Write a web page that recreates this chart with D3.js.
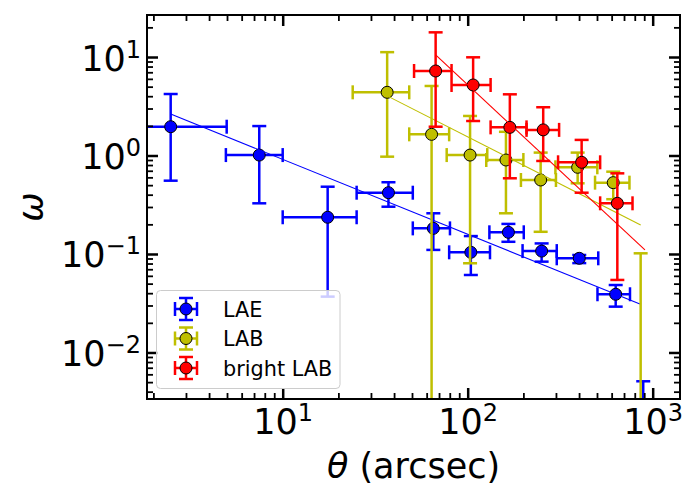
<!DOCTYPE html>
<html>
<head>
<meta charset="utf-8">
<script src="https://cdn.jsdelivr.net/npm/d3@7"></script>
<style>
body { margin: 0; background: #fff; }
svg { font-family: "DejaVu Sans", sans-serif; }
</style>
</head>
<body>
<svg></svg>
<script>
// values (theta in arcsec, omega dimensionless)
const names = ['LAE', 'LAB', 'bright LAB'];
const colors = ['#0000ff', '#bfbf00', '#ff0000'];

const laeTheta   = [2.48, 7.47, 17.5, 37.3, 65.2, 104, 166, 251, 401, 631, 889];
const laeThetaLo = [1.0, 4.93, 10, 25.1, 50.5, 79.4, 131, 198, 303, 503, 760];
const laeThetaHi = [4.98, 10, 25.1, 50.5, 80.2, 132, 201, 303, 508, 754, 1000];
const laeOmega   = [1.96, 1.01, 0.236, 0.419, 0.182, 0.104, 0.166, 0.107, 0.0904, 0.039, 0.001];
const laeOmegaLo = [0.555, 0.327, 0.0369, 0.302, 0.11, 0.0612, 0.133, 0.0836, 0.0808, 0.0292, 0.0003];
const laeOmegaHi = [4.21, 1.99, 0.482, 0.535, 0.259, 0.152, 0.202, 0.128, 0.0977, 0.0484, 0.0051];

const labTheta   = [36.7, 63.8, 103, 161, 248, 393, 612, 861];
const labThetaLo = [23.9, 48.3, 77.0, 126, 194, 298, 488, 750];
const labThetaHi = [48.3, 79.4, 127.6, 200, 300, 502, 749, 1000];
const labOmega   = [4.38, 1.64, 1.01, 0.90, 0.564, 0.759, 0.53, 0.001];
const labOmegaLo = [0.973, 0.0001, 0.0805, 0.259, 0.168, 0.522, 0.36, 0.0001];
const labOmegaHi = [11.2, 5.08, 2.52, 1.74, 1.07, 1.07, 0.685, 0.1016];

const brightTheta   = [67.1, 107, 169, 256, 413, 644];
const brightThetaLo = [51.3, 81.8, 133, 208, 308, 520];
const brightThetaHi = [81.8, 133, 208, 312, 520, 778];
const brightOmega   = [7.21, 5.2, 1.93, 1.82, 0.853, 0.327];
const brightOmegaLo = [1.96, 2.24, 0.587, 0.88, 0.419, 0.0545];
const brightOmegaHi = [17.8, 9.93, 4.18, 3.09, 1.44, 0.659];

// power-law fits, end points
const laeFitTheta = [2.48, 853];
const laeFitOmega = [2.64, 0.031];
const labFitTheta = [36.7, 861];
const labFitOmega = [4.03, 0.197];
const brightFitTheta = [67.1, 908];
const brightFitOmega = [10.5, 0.11];

const xMajor = [10, 100, 1000];
const yMajor = [0.01, 0.1, 1, 10];

const width = 700;
const height = 500;
const padLeft = 147, padRight = 680, padTop = 15, padBottom = 399;

let series = [
    {theta: laeTheta, tLo: laeThetaLo, tHi: laeThetaHi, omega: laeOmega, oLo: laeOmegaLo, oHi: laeOmegaHi, fitT: laeFitTheta, fitO: laeFitOmega},
    {theta: labTheta, tLo: labThetaLo, tHi: labThetaHi, omega: labOmega, oLo: labOmegaLo, oHi: labOmegaHi, fitT: labFitTheta, fitO: labFitOmega},
    {theta: brightTheta, tLo: brightThetaLo, tHi: brightThetaHi, omega: brightOmega, oLo: brightOmegaLo, oHi: brightOmegaHi, fitT: brightFitTheta, fitO: brightFitOmega}
];
series.forEach((s, k) => { s.name = names[k]; s.color = colors[k]; });

let svg = d3.select('svg').attr('width', width).attr('height', height);

let xScale = d3.scaleLog().domain([1.847, 1405]).range([padLeft, padRight]);
let yScale = d3.scaleLog().domain([0.00337, 26.7]).range([padBottom, padTop]);

function minorTicks(domain) {
    let out = [];
    for (let p = -4; p <= 4; p++) {
        for (let m = 2; m <= 9; m++) {
            let v = m * Math.pow(10, p);
            if (v >= domain[0] && v <= domain[1]) out.push(v);
        }
    }
    return out;
}

function powerLabel(text, v) {
    let e = Math.round(Math.log10(v));
    text.text(null);
    text.append('tspan').text('10');
    text.append('tspan').attr('dy', -13).attr('font-size', 24)
        .text(e < 0 ? '\u2212' + (-e) : String(e));
}

function drawAxes() {
    let xMinor = minorTicks(xScale.domain());
    let yMinor = minorTicks(yScale.domain());

    let axes = [
        [d3.axisBottom, xScale, 'translate(0,' + padBottom + ')'],
        [d3.axisTop, xScale, 'translate(0,' + padTop + ')'],
        [d3.axisLeft, yScale, 'translate(' + padLeft + ',0)'],
        [d3.axisRight, yScale, 'translate(' + padRight + ',0)']
    ];
    axes.forEach(([axisFn, scale, tr], i) => {
        let majors = scale === xScale ? xMajor : yMajor;
        let minors = scale === xScale ? xMinor : yMinor;
        let gMin = svg.append('g').attr('transform', tr)
            .call(axisFn(scale).tickValues(minors).tickSizeInner(-6).tickSizeOuter(0).tickFormat(''));
        gMin.selectAll('.tick line').attr('stroke', '#000').attr('stroke-width', 1.8);
        gMin.select('.domain').remove();

        let gMaj = svg.append('g').attr('transform', tr)
            .call(axisFn(scale).tickValues(majors).tickSizeInner(-11).tickSizeOuter(0));
        gMaj.selectAll('.tick line').attr('stroke', '#000').attr('stroke-width', 2.5);
        gMaj.select('.domain').remove();
        gMaj.attr('font-family', null).attr('font-size', 35);

        if (i === 0) {
            gMaj.selectAll('.tick text')
                .attr('y', 35).attr('dy', null).attr('fill', '#000')
                .each(function (d) { powerLabel(d3.select(this), d); });
        } else if (i === 2) {
            gMaj.selectAll('.tick text')
                .attr('x', -6).attr('y', 13).attr('dy', null).attr('fill', '#000')
                .each(function (d) { powerLabel(d3.select(this), d); });
        } else {
            gMaj.selectAll('.tick text').remove();
        }
    });

    svg.append('rect')
        .attr('x', padLeft).attr('y', padTop)
        .attr('width', padRight - padLeft).attr('height', padBottom - padTop)
        .attr('fill', 'none').attr('stroke', '#000').attr('stroke-width', 2);

    svg.append('text')
        .attr('x', (padLeft + padRight) / 2).attr('y', 478)
        .attr('text-anchor', 'middle').attr('font-size', 35)
        .call(t => {
            t.append('tspan').attr('font-style', 'italic').text('\u03b8');
            t.append('tspan').text(' (arcsec)');
        });

    svg.append('text')
        .attr('transform', 'translate(43,' + ((padTop + padBottom) / 2) + ') rotate(-90)')
        .attr('text-anchor', 'middle').attr('font-size', 35).attr('font-style', 'italic')
        .text('\u03c9');
}

function drawSeries(plot, s) {
    let idx = d3.range(s.theta.length);
    let cap = 7;
    let g = plot.append('g').attr('stroke', s.color).attr('stroke-width', 2.5);

    // vertical bars + caps
    g.selectAll(null).data(idx).enter().append('line')
        .attr('x1', i => xScale(s.theta[i])).attr('x2', i => xScale(s.theta[i]))
        .attr('y1', i => yScale(s.oLo[i])).attr('y2', i => yScale(s.oHi[i]));
    ['oLo', 'oHi'].forEach(key => {
        g.selectAll(null).data(idx).enter().append('line')
            .attr('x1', i => xScale(s.theta[i]) - cap).attr('x2', i => xScale(s.theta[i]) + cap)
            .attr('y1', i => yScale(s[key][i])).attr('y2', i => yScale(s[key][i]));
    });
    // horizontal bars + caps
    g.selectAll(null).data(idx).enter().append('line')
        .attr('x1', i => xScale(s.tLo[i])).attr('x2', i => xScale(s.tHi[i]))
        .attr('y1', i => yScale(s.omega[i])).attr('y2', i => yScale(s.omega[i]));
    ['tLo', 'tHi'].forEach(key => {
        g.selectAll(null).data(idx).enter().append('line')
            .attr('x1', i => xScale(s[key][i])).attr('x2', i => xScale(s[key][i]))
            .attr('y1', i => yScale(s.omega[i]) - cap).attr('y2', i => yScale(s.omega[i]) + cap);
    });

    plot.append('g').selectAll('circle').data(idx).enter().append('circle')
        .attr('cx', i => xScale(s.theta[i]))
        .attr('cy', i => yScale(s.omega[i]))
        .attr('r', 6)
        .attr('fill', s.color).attr('stroke', '#000').attr('stroke-width', 1);

    let line = d3.line().x(d => xScale(d[0])).y(d => yScale(d[1]));
    plot.append('path')
        .datum(d3.zip(s.fitT, s.fitO))
        .attr('d', line)
        .attr('fill', 'none').attr('stroke', s.color).attr('stroke-width', 1.1);
}

function drawLegend() {
    let lg = svg.append('g');
    lg.append('rect')
        .attr('x', 156.5).attr('y', 290.5).attr('width', 183.5).attr('height', 98).attr('rx', 4)
        .attr('fill', '#fff').attr('fill-opacity', 0.8)
        .attr('stroke', '#cccccc').attr('stroke-width', 1);
    series.forEach((s, k) => {
        let cy = 309 + k * 29.5;
        let cx = 186;
        let h = lg.append('g').attr('stroke', s.color).attr('stroke-width', 2.5);
        h.append('line').attr('x1', cx - 11).attr('x2', cx + 11).attr('y1', cy).attr('y2', cy);
        h.append('line').attr('x1', cx).attr('x2', cx).attr('y1', cy - 11).attr('y2', cy + 11);
        h.append('line').attr('x1', cx - 7).attr('x2', cx + 7).attr('y1', cy - 11).attr('y2', cy - 11);
        h.append('line').attr('x1', cx - 7).attr('x2', cx + 7).attr('y1', cy + 11).attr('y2', cy + 11);
        h.append('line').attr('x1', cx - 11).attr('x2', cx - 11).attr('y1', cy - 7).attr('y2', cy + 7);
        h.append('line').attr('x1', cx + 11).attr('x2', cx + 11).attr('y1', cy - 7).attr('y2', cy + 7);
        lg.append('circle').attr('cx', cx).attr('cy', cy).attr('r', 6)
            .attr('fill', s.color).attr('stroke', '#000').attr('stroke-width', 1);
        lg.append('text').attr('x', 223).attr('y', cy + 7.5)
            .attr('font-size', 20.8).attr('fill', '#000').text(s.name);
    });
}

function main() {
    svg.append('defs').append('clipPath').attr('id', 'plot-clip')
        .append('rect').attr('x', padLeft).attr('y', padTop)
        .attr('width', padRight - padLeft).attr('height', padBottom - padTop);
    let plot = svg.append('g').attr('clip-path', 'url(#plot-clip)');
    series.forEach(s => drawSeries(plot, s));
    drawAxes();
    drawLegend();
}

main();
</script>
</body>
</html>
